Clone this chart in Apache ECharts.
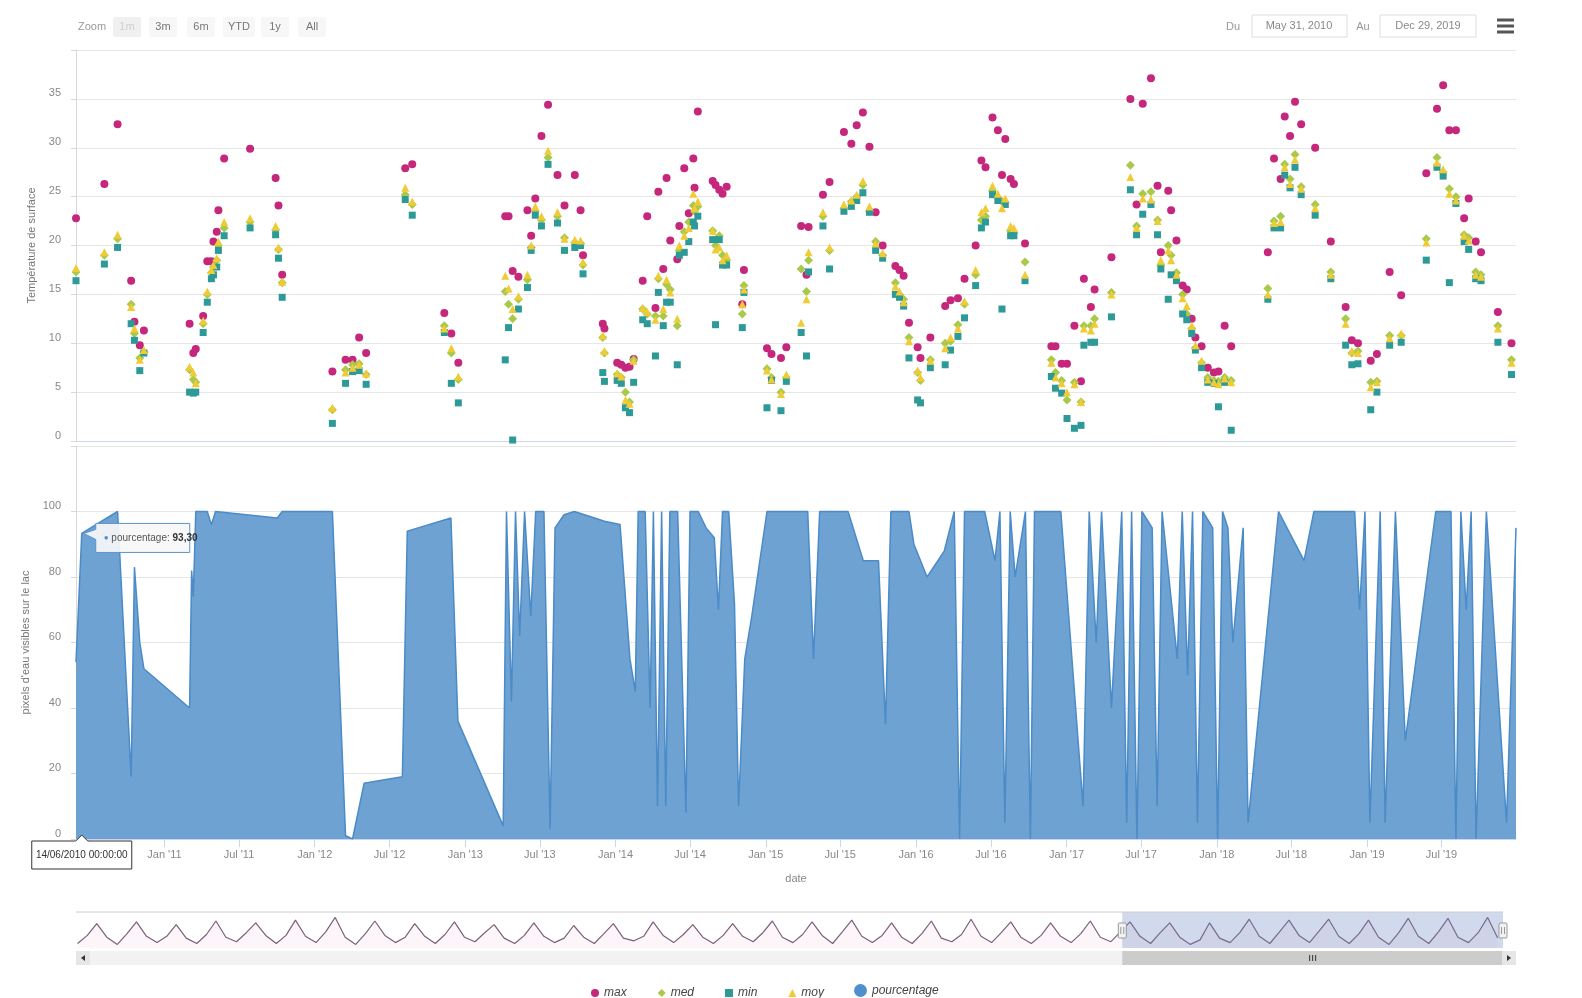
<!DOCTYPE html>
<html>
<head>
<meta charset="utf-8">
<script src="https://cdn.jsdelivr.net/npm/echarts@6/dist/echarts.min.js"></script>
<style>
  html, body { margin: 0; padding: 0; background: #fff; }
  #chart { width: 1582px; height: 998px; }
</style>
</head>
<body>
<div id="chart"></div>
<script>
// ---- Surface temperature statistics per acquisition date (°C) ----
const obsDates = [
  '2010-05-31','2010-08-08','2010-09-09','2010-10-12','2010-10-20','2010-11-02','2010-11-12',
  '2011-03-03','2011-03-12','2011-03-18','2011-04-05','2011-04-15','2011-04-25','2011-04-30','2011-05-08','2011-05-12','2011-05-26','2011-07-28','2011-09-28','2011-10-05','2011-10-14',
  '2012-02-13','2012-03-16','2012-04-02','2012-04-18','2012-05-05','2012-08-08','2012-08-25','2012-11-11','2012-11-28','2012-12-15',
  '2013-04-08','2013-04-16','2013-04-26','2013-05-10','2013-06-01','2013-06-10','2013-06-20','2013-07-05','2013-07-21','2013-08-13','2013-08-30','2013-09-24','2013-10-08','2013-10-14','2013-12-01','2013-12-05',
  '2014-01-05','2014-01-15','2014-01-25','2014-02-04','2014-02-14','2014-03-08','2014-03-19','2014-04-08','2014-04-15','2014-04-27','2014-05-05','2014-05-14','2014-05-31','2014-06-05','2014-06-17','2014-06-28','2014-07-09','2014-07-12','2014-07-20','2014-08-25','2014-09-01','2014-09-10','2014-09-18','2014-09-28','2014-11-05','2014-11-09',
  '2015-01-04','2015-01-15','2015-02-07','2015-02-20','2015-03-28','2015-04-10','2015-04-15','2015-05-20','2015-06-05','2015-07-10','2015-07-28','2015-08-10','2015-08-25','2015-09-10','2015-09-25','2015-10-12','2015-11-12','2015-11-22','2015-12-02','2015-12-15',
  '2016-01-05','2016-01-12','2016-02-05','2016-03-12','2016-03-25','2016-04-12','2016-04-28','2016-05-25','2016-06-08','2016-06-18','2016-07-05','2016-07-18','2016-07-28','2016-08-05','2016-08-18','2016-08-26','2016-09-22','2016-11-25','2016-12-05','2016-12-20',
  '2017-01-02','2017-01-20','2017-02-05','2017-02-12','2017-03-01','2017-03-10','2017-04-20','2017-06-05','2017-06-20','2017-07-05','2017-07-25','2017-08-10','2017-08-18','2017-09-05','2017-09-12','2017-09-25','2017-10-10','2017-10-20','2017-11-01','2017-11-10','2017-11-25','2017-12-10','2017-12-25',
  '2018-01-05','2018-01-20','2018-02-05','2018-05-05','2018-05-20','2018-06-05','2018-06-15','2018-06-28','2018-07-10','2018-07-25','2018-08-28','2018-10-05','2018-11-10','2018-11-25','2018-12-10',
  '2019-01-10','2019-01-25','2019-02-25','2019-03-25','2019-05-25','2019-06-20','2019-07-05','2019-07-20','2019-08-05','2019-08-25','2019-09-05','2019-09-22','2019-10-05','2019-11-15','2019-12-18'
];
const maxVals = [
  22.8,26.3,32.4,16.4,12.2,9.8,11.3,
  12.0,9.0,9.4,12.8,18.4,18.4,20.4,21.4,23.6,28.9,29.9,26.9,24.1,17.0,
  7.1,8.3,8.3,10.6,9.0,27.9,28.3,13.1,11.0,8.0,
  23.0,23.0,17.4,16.8,23.6,21.0,24.8,31.2,34.4,27.2,24.1,27.2,23.6,19.0,12.0,11.5,
  8.0,7.8,7.5,7.6,8.4,16.4,23.0,13.6,25.5,17.6,26.9,20.5,18.6,22.0,27.9,23.3,28.9,25.9,33.7,26.6,26.2,25.7,25.3,26.0,14.0,17.5,
  9.5,8.9,8.5,9.6,22.0,17.0,21.9,25.2,26.5,31.6,30.4,32.3,33.6,30.1,23.4,20.0,17.9,17.5,16.9,12.1,
  9.6,8.5,10.6,13.8,14.4,14.6,16.6,20.0,28.7,28.0,33.1,31.8,27.2,30.9,26.8,26.3,20.2,9.7,9.7,7.9,
  7.9,11.8,6.1,16.6,13.7,15.5,18.8,35.0,24.2,34.5,37.1,26.1,19.3,25.6,23.6,20.5,15.9,15.5,12.5,10.6,9.7,7.5,7.0,
  7.1,11.8,9.7,19.3,28.9,26.8,33.2,31.2,34.7,32.4,30.0,20.4,13.7,10.3,10.0,
  8.2,8.9,17.3,14.9,27.4,34.0,36.4,31.8,31.8,22.8,24.8,20.4,19.3,13.2,10.0
];
const medVals = [
  17.3,19.0,20.7,14.0,11.0,8.5,9.1,
  7.3,6.3,6.0,12.0,15.0,17.2,17.8,18.5,20.0,21.8,22.4,21.6,19.6,16.2,
  3.2,7.3,7.8,7.9,6.8,25.2,24.2,11.8,9.0,6.3,
  15.3,14.0,12.5,14.5,16.5,19.8,23.5,22.6,29.0,23.0,20.8,20.3,20.2,18.0,10.6,9.0,
  6.8,6.5,5.0,4.0,8.3,13.5,13.0,12.8,16.6,12.8,16.0,15.5,11.8,19.5,21.4,22.4,24.1,23.5,24.0,21.5,20.0,21.0,19.0,18.5,13.0,15.9,
  7.4,6.5,5.0,6.5,17.6,15.3,18.5,23.0,19.5,23.8,24.5,25.0,26.2,23.5,20.4,19.0,16.2,15.0,14.5,10.6,
  7.0,6.2,8.3,10.0,10.2,11.9,14.0,17.0,22.6,23.0,25.6,24.9,24.5,24.4,21.5,21.3,18.3,8.3,7.0,6.2,
  4.2,6.0,4.0,11.8,11.8,12.5,15.2,28.2,22.0,25.3,25.5,22.6,18.0,20.0,19.0,17.2,15.0,13.0,11.5,9.5,8.0,6.5,6.2,
  6.1,6.5,6.2,15.6,22.5,23.0,28.3,26.8,29.3,26.0,24.2,17.3,12.5,9.0,9.2,
  6.0,6.1,10.8,10.8,20.7,29.0,27.5,25.8,25.0,21.1,20.8,17.3,17.0,11.8,8.3
];
const minVals = [
  16.4,18.1,19.8,12.0,10.3,7.2,9.0,
  5.0,4.9,5.0,11.1,14.2,16.6,17.0,17.8,19.5,21.0,21.8,21.1,18.7,14.7,
  1.8,5.9,7.1,7.2,5.8,24.7,23.1,11.1,5.9,3.9,
  8.3,11.6,0.1,13.5,15.7,19.5,23.1,22.0,28.3,22.3,19.5,19.8,20.0,17.1,7.0,6.1,
  6.2,5.9,3.4,2.9,6.0,12.4,12.0,8.7,15.2,11.8,14.2,14.2,7.8,19.0,19.3,20.4,22.4,22.0,23.0,20.6,11.9,20.6,18.0,18.0,11.6,15.2,
  3.4,6.2,3.1,6.1,11.1,8.7,17.3,22.0,17.6,23.5,24.0,24.6,25.4,23.4,19.5,18.7,15.0,14.7,13.8,8.5,
  4.2,3.9,7.5,7.8,9.3,10.7,12.6,15.9,21.8,22.4,25.2,24.6,13.5,24.2,21.0,21.0,16.4,6.6,5.4,4.9,
  2.3,1.3,1.6,9.8,10.1,10.1,12.7,25.7,21.1,23.2,24.2,21.1,17.6,14.5,17.0,16.4,13.0,12.4,11.0,9.3,7.5,6.0,5.9,
  3.5,6.0,1.1,14.5,21.8,21.8,27.2,25.9,28.0,25.2,23.1,16.6,9.8,7.8,7.9,
  3.2,5.0,9.8,10.1,18.5,28.0,27.1,16.2,24.3,20.4,19.6,16.6,16.4,10.1,6.8
];
const moyVals = [
  17.7,19.3,21.1,13.7,11.5,8.3,9.3,
  7.6,7.0,5.9,12.3,15.3,17.5,18.0,18.7,20.4,22.4,22.8,22.0,19.8,16.3,
  3.4,7.0,7.5,7.8,6.9,25.9,24.5,11.5,9.5,6.6,
  16.9,15.6,13.5,14.8,17.0,20.0,24.0,23.0,29.7,23.4,20.7,20.6,20.5,18.3,10.8,9.2,
  6.9,6.6,4.2,3.8,8.2,13.6,13.2,12.4,16.9,13.5,16.5,15.2,12.5,20.0,21.0,21.8,25.3,23.8,24.5,21.5,19.6,19.8,18.5,19.0,14.0,15.5,
  7.2,6.3,4.8,6.8,12.1,14.5,19.3,23.4,19.8,24.2,24.6,25.2,26.6,24.0,20.2,19.2,15.8,15.3,14.2,10.2,
  7.2,6.5,8.2,9.5,10.6,11.5,14.3,17.5,23.4,23.8,26.1,25.3,23.8,24.8,22.0,21.8,17.0,8.0,6.5,5.9,
  5.0,5.8,4.0,11.5,11.3,12.0,15.0,27.0,21.8,24.8,24.7,22.5,18.5,19.5,18.5,17.0,14.6,13.8,11.8,9.8,8.2,6.3,6.0,
  5.8,6.4,6.0,15.0,22.3,22.4,28.0,26.3,28.8,25.8,23.8,17.0,12.0,9.2,9.0,
  5.5,6.0,10.5,11.0,20.3,28.5,27.8,25.3,24.6,21.0,20.5,17.0,16.8,11.5,8.0
];

// ---- Share of visible water pixels on the lake (%) ----
const pctDates = [
  '2010-05-31','2010-06-14','2010-09-09','2010-10-12','2010-10-20','2010-11-02','2010-11-12',
  '2011-03-03','2011-03-08','2011-03-12','2011-03-18','2011-04-15','2011-04-25','2011-05-05','2011-10-02','2011-10-14',
  '2012-02-13','2012-03-16','2012-04-02','2012-04-30','2012-08-01','2012-08-13','2012-11-27','2012-12-14',
  '2013-04-03','2013-04-11','2013-04-23','2013-05-03','2013-05-13','2013-05-25','2013-06-09','2013-06-21','2013-07-11','2013-07-26','2013-08-07','2013-08-29','2013-09-23','2013-11-11','2013-12-05',
  '2014-01-12','2014-02-05','2014-02-18','2014-02-25','2014-03-14','2014-03-26','2014-04-03','2014-04-13','2014-04-23','2014-05-03','2014-05-13','2014-06-01','2014-06-21','2014-07-01','2014-07-21','2014-08-09','2014-08-29','2014-09-08','2014-09-18','2014-10-03','2014-10-17','2014-10-27','2014-11-11','2014-11-28',
  '2015-01-04','2015-04-13','2015-04-27','2015-05-12','2015-06-26','2015-07-20','2015-08-26','2015-10-02','2015-10-19','2015-11-01','2015-12-15','2015-12-27',
  '2016-01-28','2016-03-10','2016-04-03','2016-04-16','2016-04-28','2016-06-16','2016-07-11','2016-07-23','2016-08-04','2016-08-17','2016-08-29','2016-09-23','2016-10-05','2016-10-15','2016-12-18',
  '2017-02-10','2017-02-25','2017-03-14','2017-03-27','2017-04-20','2017-05-15','2017-05-27','2017-06-08','2017-06-21','2017-07-03','2017-07-28','2017-08-09','2017-08-21','2017-09-27','2017-10-09','2017-10-22','2017-11-03','2017-11-15','2017-11-28','2017-12-22',
  '2018-01-03','2018-01-15','2018-01-28','2018-02-09','2018-03-06','2018-03-18','2018-05-31','2018-08-01','2018-08-25','2018-12-02','2018-12-14','2018-12-27',
  '2019-01-08','2019-02-02','2019-02-14','2019-03-11','2019-04-04','2019-06-17','2019-07-24','2019-08-05','2019-08-17','2019-08-30','2019-09-11','2019-09-23','2019-10-18','2019-12-06','2019-12-29'
];
const pctVals = [
  54,93.3,100,19,83,60,52,
  40,82,74,100,100,96,100,98,100,
  100,1,0,17,19,94,98,36,
  4,100,42,100,62,100,68,100,100,3,95,99,100,98,97,
  96,55,45,100,100,40,100,10,100,10,100,100,8,100,100,95,92,70,100,100,72,10,55,68,
  100,100,55,100,100,100,85,85,35,100,100,90,
  80,88,100,0,100,100,85,100,5,100,80,100,0,100,100,
  10,100,60,100,40,100,5,100,0,100,95,10,100,55,100,50,100,5,100,95,
  0,100,95,60,95,5,100,85,100,100,70,100,
  5,100,5,100,30,100,100,0,100,70,100,0,100,5,95
];

// ---- Long-term record shown in the navigator: four seasonal values per year ----
const navYears = [1984,1985,1986,1987,1988,1989,1990,1991,1992,1993,1994,1995,1996,1997,1998,1999,2000,2001,2002,2003,2004,2005,2006,2007,2008,2009,2010,2011,2012,2013,2014,2015,2016,2017,2018,2019];
const navFeb = [5,4,6,5,7,5,6,4,6,5,7,5,6,5,8,6,5,7,6,5,6,5,7,6,5,6,7,5,4,6,5,6,5,4,5,6];
const navMay = [14,16,13,15,17,14,18,16,12,15,17,14,11,16,13,15,14,17,15,18,14,16,15,17,14,16,18,17,9,17,18,19,16,17,18,17];
const navAug = [27,29,26,30,28,31,34,30,27,29,26,28,25,27,29,26,27,30,29,31,28,30,32,29,28,30,29,28,28,32,31,32,31,33,33,34];
const navNov = [12,13,11,12,14,13,12,14,13,12,11,13,12,11,14,12,13,12,14,13,12,11,13,12,13,12,13,12,11,13,14,13,12,13,12,11];

// ---- Date ticks of the lower pane ----
const tickDates = ['2010-07-01','2011-01-01','2011-07-01','2012-01-01','2012-07-01','2013-01-01','2013-07-01','2014-01-01','2014-07-01','2015-01-01','2015-07-01','2016-01-01','2016-07-01','2017-01-01','2017-07-01','2018-01-01','2018-07-01','2019-01-01','2019-07-01'];
const tickLabels = ["Jul '10","Jan '11","Jul '11","Jan '12","Jul '12","Jan '13","Jul '13","Jan '14","Jul '14","Jan '15","Jul '15","Jan '16","Jul '16","Jan '17","Jul '17","Jan '18","Jul '18","Jan '19","Jul '19"];

// displayed range and hovered point
const rangeStart = '2010-05-31';
const rangeEnd = '2019-12-29';
const navStart = '1984-02-01';
const rangeButtons = ['1m', '3m', '6m', 'YTD', '1y', 'All'];
const tipDate = '2010-06-14';
const tipLabel = '14/06/2010 00:00:00';
const tipValue = pctVals[pctDates.indexOf(tipDate)];

const FONT = '"Liberation Sans", Arial, Helvetica, sans-serif';
const t = s => new Date(s + 'T00:00:00').getTime();
const pair = (dates, vals) => dates.map((d, i) => [t(d), vals[i]]);
const tickTimes = tickDates.map(t);

const navData = [];
navYears.forEach((y, i) => {
  navData.push([t(y + '-02-15'), navFeb[i]]);
  navData.push([t(y + '-05-15'), navMay[i]]);
  navData.push([t(y + '-08-10'), navAug[i]]);
  navData.push([t(y + '-11-10'), navNov[i]]);
});

const COLORS = { max: '#c4277b', med: '#a9c94a', min: '#2e9a98', moy: '#f0cb35', pct: '#4a8bc8', pctFill: '#6ea2d2' };
const axisGray = '#ccd6eb';
const labelStyle = { color: '#888', fontSize: 11, fontFamily: FONT };

function scatter(name, vals, symbol, size, color) {
  return {
    name, type: 'scatter', xAxisIndex: 0, yAxisIndex: 0,
    symbol, symbolSize: size, data: pair(obsDates, vals),
    itemStyle: { color, opacity: 1 }
  };
}

const option = {
  animation: false,
  textStyle: { fontFamily: FONT },
  grid: [
    { left: 76, top: 50, width: 1440, height: 391 },
    { left: 76, top: 446, width: 1440, height: 393 },
    { left: 76, top: 912, width: 1427, height: 36 }
  ],
  xAxis: [
    { type: 'value', gridIndex: 0, min: t(rangeStart), max: t(rangeEnd),
      axisLabel: { show: false }, axisTick: { show: false }, splitLine: { show: false },
      axisLine: { lineStyle: { color: axisGray } } },
    { type: 'value', gridIndex: 1, min: t(rangeStart), max: t(rangeEnd),
      axisLine: { lineStyle: { color: axisGray } },
      axisTick: { customValues: tickTimes, length: 8, lineStyle: { color: axisGray } },
      axisLabel: Object.assign({ customValues: tickTimes, margin: 10,
        formatter: v => { const i = tickTimes.indexOf(v); return i >= 0 ? tickLabels[i] : ''; } }, labelStyle),
      splitLine: { show: false },
      name: 'date', nameLocation: 'middle', nameGap: 34,
      nameTextStyle: { color: '#888', fontSize: 11, fontFamily: FONT } },
    { type: 'value', gridIndex: 2, min: t(navStart), max: t(rangeEnd), show: false }
  ],
  yAxis: [
    { type: 'value', gridIndex: 0, min: 0, max: 40, interval: 5,
      axisLine: { show: true, lineStyle: { color: '#d8d8d8' } },
      axisLabel: Object.assign({ margin: 15, verticalAlign: 'bottom', formatter: v => v === 40 ? '' : v }, labelStyle),
      splitLine: { lineStyle: { color: '#e6e6e6' } },
      name: 'Température de surface', nameLocation: 'middle', nameGap: 36,
      nameTextStyle: { color: '#777', fontSize: 11, fontFamily: FONT } },
    { type: 'value', gridIndex: 1, min: 0, max: 120, interval: 20,
      axisLine: { show: true, lineStyle: { color: '#d8d8d8' } },
      axisLabel: Object.assign({ margin: 15, verticalAlign: 'bottom', formatter: v => v === 120 ? '' : v }, labelStyle),
      splitLine: { lineStyle: { color: '#e6e6e6' } },
      name: "pixels d'eau visibles sur le lac", nameLocation: 'middle', nameGap: 42,
      nameTextStyle: { color: '#777', fontSize: 11, fontFamily: FONT } },
    { type: 'value', gridIndex: 2, min: 0, max: 40, show: false }
  ],
  legend: [
    { data: ['max', 'med', 'min', 'moy'], left: 586, top: 982, itemWidth: 8, itemHeight: 8, itemGap: 31,
      textStyle: { fontStyle: 'italic', fontSize: 12, color: '#444', fontFamily: FONT } },
    { data: [{ name: 'pourcentage', icon: 'circle' }], left: 849, top: 979, itemWidth: 13, itemHeight: 13,
      textStyle: { fontStyle: 'italic', fontSize: 12, color: '#444', fontFamily: FONT } }
  ],
  series: [
    scatter('max', maxVals, 'circle', 8, COLORS.max),
    scatter('med', medVals, 'diamond', 9, COLORS.med),
    scatter('min', minVals, 'rect', 7, COLORS.min),
    scatter('moy', moyVals, 'triangle', 8, COLORS.moy),
    { name: 'pourcentage', type: 'line', xAxisIndex: 1, yAxisIndex: 1,
      data: pair(pctDates, pctVals), showSymbol: false, symbol: 'none',
      itemStyle: { color: '#4f8fcd' },
      lineStyle: { color: COLORS.pct, width: 1.5 },
      areaStyle: { color: COLORS.pctFill, opacity: 1 } },
    { name: 'historique', type: 'line', xAxisIndex: 2, yAxisIndex: 2, silent: true,
      data: navData, showSymbol: false, symbol: 'none',
      lineStyle: { color: '#7d5f79', width: 1.2 },
      areaStyle: { color: 'rgba(200,60,140,0.07)' } }
  ]
};

const chart = echarts.init(document.getElementById('chart'));
chart.setOption(option);

// ---- overlay: range selector toolbar, navigator mask/handles, scrollbar, tooltip ----
const g = [];
const txt = (x, y, text, o = {}, z = 100) => ({ type: 'text', x, y, silent: true, z,
  style: Object.assign({ text, align: 'center', verticalAlign: 'middle', fill: '#777', font: '11px ' + FONT }, o) });
const rect = (x, y, w, h, style, r = 0, z = 90) => ({ type: 'rect', silent: true, z,
  shape: { x, y, width: w, height: h, r }, style });

// range selector buttons
g.push(txt(92, 27, 'Zoom', { fill: '#999' }));
const btnX = [127, 163, 201, 239, 275, 312];
rangeButtons.forEach((b, i) => {
  const w = b === 'YTD' ? 32 : 28;
  g.push(rect(btnX[i] - w / 2, 17, w, 20, { fill: i === 0 ? '#f0f0f0' : '#f7f7f7' }, 2));
  g.push(txt(btnX[i], 27, b, { fill: i === 0 ? '#cfcfcf' : '#777' }));
});
// date inputs
const MONTHS = ['Jan','Feb','Mar','Apr','May','Jun','Jul','Aug','Sep','Oct','Nov','Dec'];
const fmtInput = s => { const d = new Date(s + 'T00:00:00'); return MONTHS[d.getMonth()] + ' ' + d.getDate() + ', ' + d.getFullYear(); };
g.push(txt(1233, 27, 'Du', { fill: '#999' }));
g.push(rect(1252, 15, 95, 22, { fill: '#fff', stroke: '#ddd', lineWidth: 1 }));
g.push(txt(1299, 26, fmtInput(rangeStart), { fill: '#888' }));
g.push(txt(1363, 27, 'Au', { fill: '#999' }));
g.push(rect(1380, 15, 96, 22, { fill: '#fff', stroke: '#ddd', lineWidth: 1 }));
g.push(txt(1428, 26, fmtInput(rangeEnd), { fill: '#888' }));
// context menu icon
[20, 26, 32].forEach(y => g.push(rect(1497, y - 1.5, 17, 3, { fill: '#555' })));

// navigator
const n0 = chart.convertToPixel({ xAxisIndex: 2 }, t(rangeStart));
const n1 = chart.convertToPixel({ xAxisIndex: 2 }, t(rangeEnd));
const navTop = 912, navH = 36;
g.push({ type: 'line', silent: true, z: 95, shape: { x1: 76, y1: navTop, x2: 1503, y2: navTop }, style: { stroke: '#cccccc', lineWidth: 1 } });
g.push(rect(n0, navTop, n1 - n0, navH, { fill: 'rgba(102,133,194,0.3)' }, 0, 94));
[n0, n1].forEach(x => {
  g.push(rect(x - 4, navTop + 11, 8, 15, { fill: '#f2f2f2', stroke: '#999', lineWidth: 1 }, 1, 97));
  g.push({ type: 'line', silent: true, z: 98, shape: { x1: x - 1.5, y1: navTop + 15, x2: x - 1.5, y2: navTop + 22 }, style: { stroke: '#999' } });
  g.push({ type: 'line', silent: true, z: 98, shape: { x1: x + 1.5, y1: navTop + 15, x2: x + 1.5, y2: navTop + 22 }, style: { stroke: '#999' } });
});
// scrollbar
const sbY = 951, sbH = 14;
g.push(rect(76, sbY, 1440, sbH, { fill: '#f2f2f2' }));
g.push(rect(n0, sbY, n1 - n0, sbH, { fill: '#cccccc' }, 0, 91));
const gx = (n0 + n1) / 2;
[-3, 0, 3].forEach(d => g.push({ type: 'line', silent: true, z: 92,
  shape: { x1: gx + d, y1: sbY + 4, x2: gx + d, y2: sbY + 10 }, style: { stroke: '#333', lineWidth: 1 } }));
g.push(rect(76, sbY, 14, sbH, { fill: '#e6e6e6' }, 0, 92));
g.push(rect(1502, sbY, 14, sbH, { fill: '#e6e6e6' }, 0, 92));
g.push({ type: 'polygon', silent: true, z: 93, shape: { points: [[85, sbY + 4], [85, sbY + 10], [81, sbY + 7]] }, style: { fill: '#333' } });
g.push({ type: 'polygon', silent: true, z: 93, shape: { points: [[1507, sbY + 4], [1507, sbY + 10], [1511, sbY + 7]] }, style: { fill: '#333' } });

// hovered point: tooltip callout and axis label
const [px, py] = chart.convertToPixel({ gridIndex: 1 }, [t(tipDate), tipValue]);
const L = px + 14, T = py - 10, W = 94, H = 29;
g.push({ type: 'polygon', silent: true, z: 110,
  shape: { points: [[L, T], [L + W, T], [L + W, T + H], [L, T + H], [L, py + 6], [px + 2, py], [L, py - 4]] },
  style: { fill: 'rgba(247,247,247,0.92)', stroke: '#5b95cd', lineWidth: 1 } });
g.push({ type: 'text', silent: true, z: 111, x: L + 8, y: T + H / 2,
  style: { text: '{d|●} {l|pourcentage:} {v|' + tipValue.toFixed(2).replace('.', ',') + '}',
    verticalAlign: 'middle', align: 'left', font: '10px ' + FONT,
    rich: { d: { fill: '#4f8fcd', fontSize: 8 }, l: { fill: '#555', fontSize: 10, fontFamily: FONT },
            v: { fill: '#333', fontSize: 10, fontWeight: 'bold', fontFamily: FONT } } } });
const cx = px, axY = 839;
g.push({ type: 'polygon', silent: true, z: 110,
  shape: { points: [[cx - 50, axY + 2], [cx - 6, axY + 2], [cx, axY - 4], [cx + 6, axY + 2], [cx + 50, axY + 2], [cx + 50, axY + 30], [cx - 50, axY + 30]] },
  style: { fill: '#fff', stroke: '#333', lineWidth: 1 } });
g.push(txt(cx, axY + 16, tipLabel, { fill: '#333', font: '10px ' + FONT }, 112));

chart.setOption({ graphic: { elements: g } });
</script>
</body>
</html>
